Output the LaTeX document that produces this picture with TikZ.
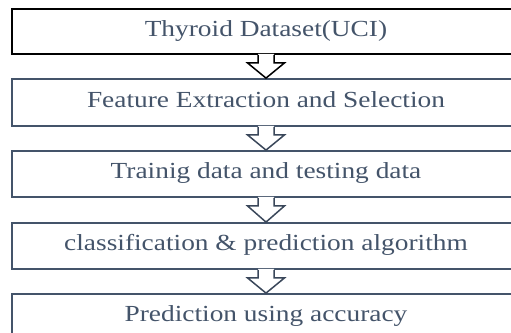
\documentclass[tikz,border=0pt]{standalone}
\usepackage{fontspec}
\setmainfont[FakeStretch=1.19]{Liberation Serif}
\usetikzlibrary{calc}
\definecolor{slate}{HTML}{44546A}
\definecolor{slatedark}{HTML}{3A475A}
\tikzset{
  stagebox/.style={draw=slate, line width=1.8pt, fill=white, text=slate,
    minimum width=508pt, inner sep=0pt, text height=15pt, text depth=6pt,
    font=\fontsize{23}{27}\selectfont},
  flowarrow/.style={line width=1.5pt, draw=slatedark, line join=miter},
}
% hollow block arrow from the bottom of box #2 to the top of box #3
\newcommand{\blockarrow}[3][]{%
  \fill[white] ($(#2.south)+(-8,-1)$) -- ++(0,9) -- ++(-10.5,0) -- (#3.north)
    -- ($(#2.south)+(18.5,8)$) -- ++(-10.5,0) -- ++(0,-9) -- cycle;
  \draw[flowarrow,#1] ($(#2.south)+(-8,0)$) -- ++(0,8) -- ++(-10.5,0) -- (#3.north)
    -- ($(#2.south)+(18.5,8)$) -- ++(-10.5,0) -- ++(0,-8);
}
\begin{document}
\begin{tikzpicture}[x=1pt,y=-1pt]
\useasboundingbox (0,0) rectangle (511,332);
\begin{scope}
\clip (0,0) rectangle (511,332);
\node[stagebox, draw=black, minimum height=45pt] (b1) at (266,31.5) {Thyroid Dataset(UCI)};
\node[stagebox, minimum height=47pt] (b2) at (266,102.5) {Feature Extraction and Selection};
\node[stagebox, minimum height=46pt] (b3) at (266,174) {Trainig data and testing data};
\node[stagebox, minimum height=46pt] (b4) at (266,246) {classification \& prediction algorithm};
\node[stagebox, minimum height=46pt] (b5) at (266,317) {Prediction using accuracy};
\blockarrow[draw=black]{b1}{b2}
\blockarrow{b2}{b3}
\blockarrow{b3}{b4}
\blockarrow{b4}{b5}
\end{scope}
\end{tikzpicture}
\end{document}
